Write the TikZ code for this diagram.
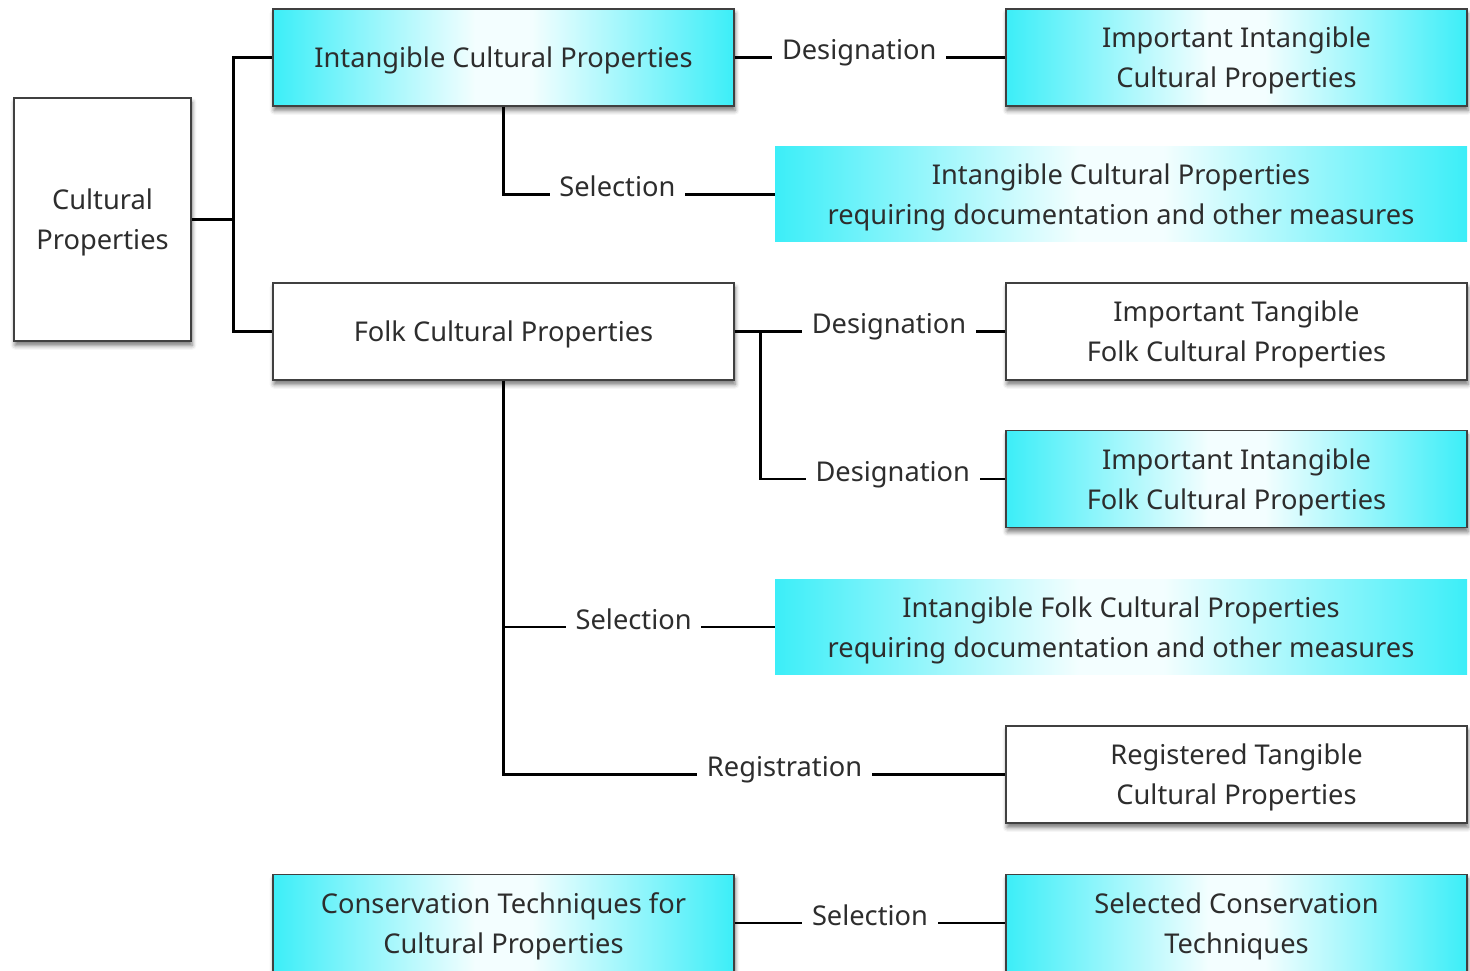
\documentclass[tikz,border=0pt]{standalone}
\usepackage{fontspec}
\setmainfont{Noto Sans}
\usetikzlibrary{shadows.blur}

\definecolor{glowcyan}{RGB}{60,238,248}
\definecolor{inkgray}{RGB}{45,45,45}
\pgfdeclarehorizontalshading{cyanglow}{100bp}{color(0bp)=(glowcyan); color(25bp)=(glowcyan);
  color(47bp)=(glowcyan!6); color(53bp)=(glowcyan!6); color(75bp)=(glowcyan); color(100bp)=(glowcyan)}

\tikzset{
  box/.style={draw=black!75, line width=0.8pt, fill=white, text=inkgray, align=center,
    minimum width=9.22cm, minimum height=1.94cm, inner sep=0pt, text depth=0pt,
    font=\fontsize{15.5}{22.7}\selectfont,
    blur shadow={shadow xshift=0.6pt, shadow yshift=-2.5pt, shadow blur radius=2.5pt, shadow opacity=55}},
  glowbox/.style={box, shade, shading=cyanglow},
  bandbox/.style={shade, shading=cyanglow, text=inkgray, align=center,
    minimum width=13.84cm, minimum height=1.9cm, inner sep=0pt, text depth=0pt,
    font=\fontsize{15.5}{22.7}\selectfont},
  link/.style={line width=1.6pt, black},
  tag/.style={fill=white, text=inkgray, anchor=base, yshift=-1.2pt, inner xsep=5.5pt,
    font=\fontsize{15.5}{22.7}\selectfont}
}

\begin{document}
\begin{tikzpicture}
    \useasboundingbox (0,0) rectangle (29.4,19.42);

    % properties
    \node[box, minimum width=3.54cm, minimum height=4.86cm] (cp) at (2.05,15.03) {Cultural\\Properties};
    \node[glowbox] (icp) at (10.07,18.27) {Intangible Cultural Properties};
    \node[box] (fcp) at (10.07,12.79) {Folk Cultural Properties};
    \node[glowbox] (ctcp) at (10.07,0.96) {Conservation Techniques for\\Cultural Properties};

    % designated, selected and registered ones
    \node[glowbox] (iicp) at (24.73,18.27) {Important Intangible\\Cultural Properties};
    \node[bandbox] (icpdoc) at (22.42,15.53) {Intangible Cultural Properties\\requiring documentation and other measures};
    \node[box] (itfcp) at (24.73,12.79) {Important Tangible\\Folk Cultural Properties};
    \node[glowbox] (iifcp) at (24.73,9.84) {Important Intangible\\Folk Cultural Properties};
    \node[bandbox] (ifcpdoc) at (22.42,6.88) {Intangible Folk Cultural Properties\\requiring documentation and other measures};
    \node[box] (rtcp) at (24.73,3.93) {Registered Tangible\\Cultural Properties};
    \node[glowbox] (sct) at (24.73,0.96) {Selected Conservation\\Techniques};

    % links
    \draw[link] (cp.east) -- ++(0.84,0) coordinate (cpfork) |- (icp.west);
    \draw[link] (cpfork) |- (fcp.west);

    \draw[link] (icp.east) -- node[tag, pos=0.46]{Designation} (iicp.west);
    \draw[link] (icp.south) |- node[tag, pos=0.71]{Selection} (icpdoc.west);

    \draw[link] (fcp.east) -- node[tag, pos=0.57]{Designation} (itfcp.west);
    \draw[link] (fcp.east) ++(0.52,0) coordinate (fcpfork) |- node[tag, pos=0.77]{Designation} (iifcp.west);
    \draw[link] (fcp.south) |- node[tag, pos=0.78]{Registration} (rtcp.west);
    \draw[link] (fcp.south |- ifcpdoc.west) -- node[tag, pos=0.48]{Selection} (ifcpdoc.west);

    \draw[link] (ctcp.east) -- node[tag]{Selection} (sct.west);
\end{tikzpicture}
\end{document}
